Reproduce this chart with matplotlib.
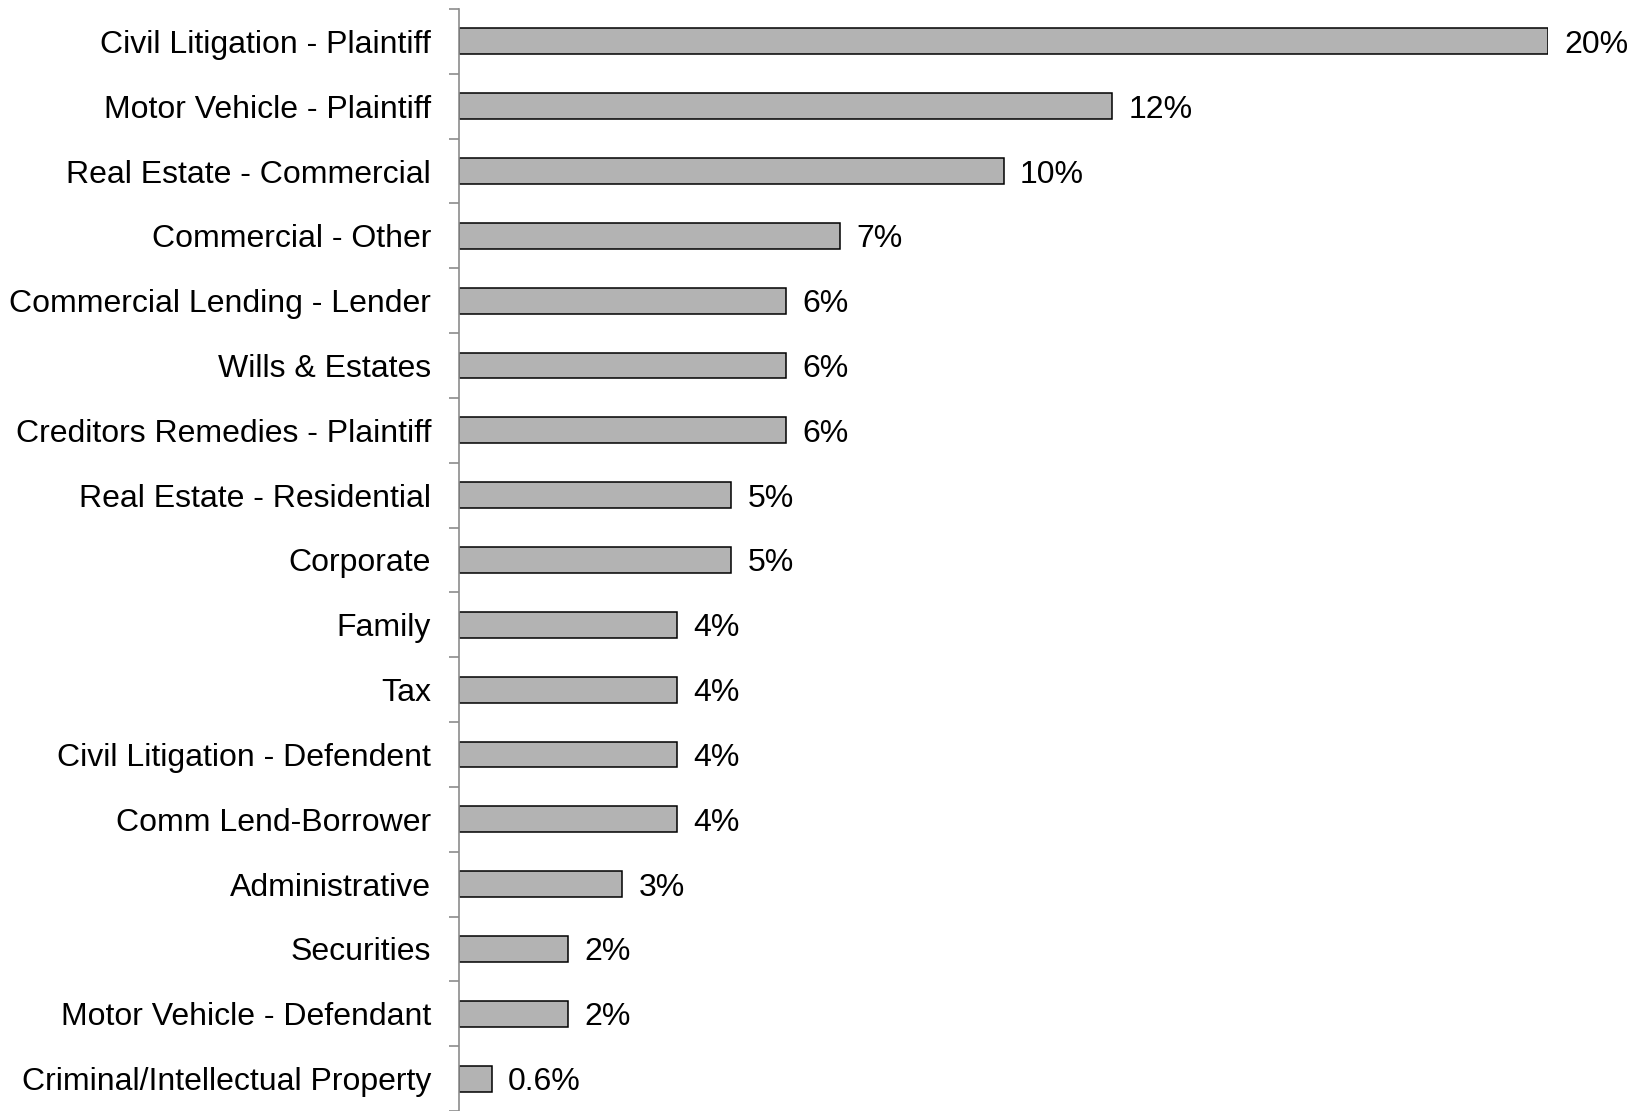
import matplotlib
matplotlib.use("Agg")
import matplotlib.pyplot as plt
import numpy as np

plt.rcParams['font.family'] = ['Liberation Sans', 'DejaVu Sans']

categories = [
    'Civil Litigation - Plaintiff',
    'Motor Vehicle - Plaintiff',
    'Real Estate - Commercial',
    'Commercial - Other',
    'Commercial Lending - Lender',
    'Wills & Estates',
    'Creditors Remedies - Plaintiff',
    'Real Estate - Residential',
    'Corporate',
    'Family',
    'Tax',
    'Civil Litigation - Defendent',
    'Comm Lend-Borrower',
    'Administrative',
    'Securities',
    'Motor Vehicle - Defendant',
    'Criminal/Intellectual Property',
]
shares = [20, 12, 10, 7, 6, 6, 6, 5, 5, 4, 4, 4, 4, 3, 2, 2, 0.6]


def pct(v):
    return '%g%%' % v


fig = plt.figure(figsize=(16.37, 11.11), dpi=100)
ax = fig.add_axes([0.2804, 0.0, 0.9457 - 0.2804, 0.9919])

y = np.arange(len(categories))
ax.barh(y, shares, height=0.4, color='#b3b3b3', edgecolor='black', linewidth=1.1)

for yi, v in zip(y, shares):
    ax.text(v + 0.3, yi, pct(v), va='center_baseline', ha='left', fontsize=23)

ax.set_xlim(0, 20)
ax.set_ylim(16.48, -0.5)

ax.set_yticks(y)
ax.set_yticklabels(categories, fontsize=23)
ax.set_yticks(np.arange(-0.5, len(categories), 1), minor=True)
ax.tick_params(axis='y', which='major', length=0, pad=20)
ax.tick_params(axis='y', which='minor', length=7, width=1.2, color='#8c8c8c')
ax.set_xticks([])

for side in ['top', 'right', 'bottom']:
    ax.spines[side].set_visible(False)
ax.spines['left'].set_color('#8c8c8c')
ax.spines['left'].set_linewidth(1.2)

fig.savefig('out.png', dpi=100)
